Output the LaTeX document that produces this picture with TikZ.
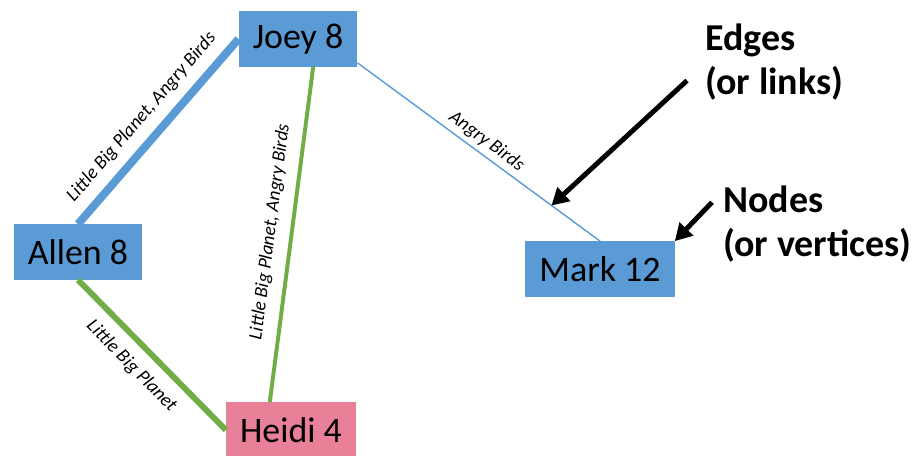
\documentclass[tikz,border=0pt]{standalone}
\usepackage{fontspec}
\setmainfont{Carlito}
\usetikzlibrary{arrows.meta}

\begin{document}
\begin{tikzpicture}[x=0.025cm, y=-0.025cm,
        person/.style={fill=personblue, minimum height=1.38cm, inner xsep=0.35cm, font=\fontsize{25.5}{30}\selectfont},
        game/.style={text=black, font=\itshape\fontsize{13.5}{15}\selectfont, sloped, inner sep=1pt},
        note/.style={font=\bfseries\fontsize{27}{31}\selectfont, align=left, anchor=north west, inner sep=0pt},
        pointer/.style={line width=3.5pt, -{Triangle[length=12pt,width=13pt]}}]
        \definecolor{personblue}{RGB}{91,155,213}
        \definecolor{personpink}{RGB}{232,128,152}
        \definecolor{gamegreen}{RGB}{112,173,71}
        \useasboundingbox (0,0) rectangle (920,455);
        \node[person] (joey) at (298,39) {Joey 8};
        \node[person] (allen) at (78,252) {Allen 8};
        \node[person, fill=personpink] (heidi) at (291,430) {Heidi 4};
        \node[person] (mark) at (600,269) {Mark 12};
        \draw[personblue, line width=5.7pt] (joey.west) -- node[game, midway, above=6pt] {Little Big Planet, Angry Birds} (allen.north);
        \draw[gamegreen, line width=2.8pt] ([xshift=0.38cm]joey.south) -- node[game, midway, above=7pt] {Little Big Planet, Angry Birds} ([xshift=-0.53cm]heidi.north);
        \draw[gamegreen, line width=4.2pt] (allen.south) -- node[game, pos=0.47, below=7pt] {Little Big Planet} (heidi.west);
        \draw[personblue, line width=1pt] ([yshift=0.1cm]joey.south east) -- node[game, midway, above=2pt] {Angry Birds} coordinate[pos=0.8] (hit) (mark.north);
        \node[note] (edgenote) at (705,24) {Edges\\(or links)};
        \node[note] (nodenote) at (723,186) {Nodes\\(or vertices)};
        \draw[pointer] ([shift={(-18,-20)}]edgenote.south west) -- (hit);
        \draw[pointer] ([shift={(-11,-22)}]nodenote.west) -- (mark.north east);
\end{tikzpicture}
\end{document}
